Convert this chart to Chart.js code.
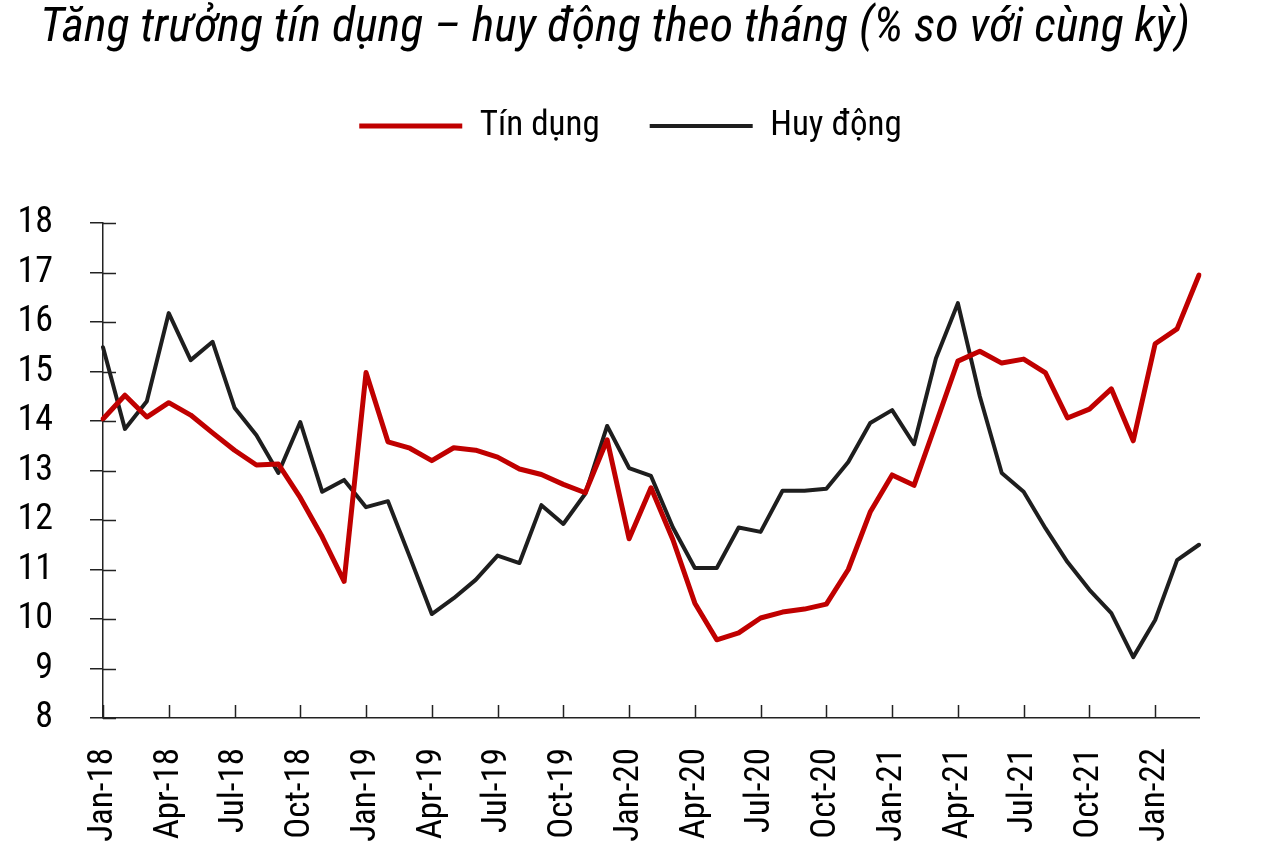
<!DOCTYPE html>
<html>
<head>
<meta charset="utf-8">
<script src="https://cdn.jsdelivr.net/npm/chart.js@4.4.1/dist/chart.umd.min.js"></script>
<style>
  html, body { margin: 0; padding: 0; background: #fff; }
  #wrap { position: relative; width: 1273px; height: 852px; }
  #title {
    position: absolute; left: 40px; top: 1px; margin: 0;
    font-family: "Roboto Condensed", "DejaVu Sans Condensed", sans-serif;
    font-style: italic; font-weight: normal; font-size: 48px; line-height: 48px;
    color: #000; white-space: nowrap;
  }
  canvas { position: absolute; left: 0; top: 0; }
</style>
</head>
<body>
<div id="wrap">
  <canvas id="c" width="1273" height="852"></canvas>
  <h1 id="title">Tăng trưởng tín dụng – huy động theo tháng (% so với cùng kỳ)</h1>
</div>
<script>
const FONT = '"Roboto Condensed", "DejaVu Sans Condensed", sans-serif';

const months = [
  'Jan-18','Feb-18','Mar-18','Apr-18','May-18','Jun-18','Jul-18','Aug-18','Sep-18','Oct-18','Nov-18','Dec-18',
  'Jan-19','Feb-19','Mar-19','Apr-19','May-19','Jun-19','Jul-19','Aug-19','Sep-19','Oct-19','Nov-19','Dec-19',
  'Jan-20','Feb-20','Mar-20','Apr-20','May-20','Jun-20','Jul-20','Aug-20','Sep-20','Oct-20','Nov-20','Dec-20',
  'Jan-21','Feb-21','Mar-21','Apr-21','May-21','Jun-21','Jul-21','Aug-21','Sep-21','Oct-21','Nov-21','Dec-21',
  'Jan-22','Feb-22','Mar-22'
];

const tinDung = [
  14.04, 14.52, 14.08, 14.37, 14.12, 13.76, 13.41, 13.11, 13.13, 12.45, 11.66, 10.76,
  14.98, 13.58, 13.45, 13.20, 13.46, 13.41, 13.27, 13.03, 12.92, 12.72, 12.55, 13.62,
  11.62, 12.65, 11.60, 10.32, 9.58, 9.72, 10.02, 10.14, 10.20, 10.30, 11.00, 12.16,
  12.91, 12.70, 13.95, 15.21, 15.41, 15.17, 15.25, 14.97, 14.06, 14.24, 14.65, 13.60,
  15.56, 15.86, 16.95
];

const huyDong = [
  15.49, 13.84, 14.40, 16.18, 15.23, 15.60, 14.27, 13.71, 12.95, 13.98, 12.57, 12.81,
  12.26, 12.38, 11.25, 10.10, 10.42, 10.79, 11.28, 11.13, 12.30, 11.92, 12.53, 13.90,
  13.05, 12.89, 11.85, 11.03, 11.03, 11.85, 11.76, 12.59, 12.59, 12.63, 13.17, 13.96,
  14.22, 13.53, 15.27, 16.38, 14.50, 12.95, 12.57, 11.83, 11.15, 10.59, 10.12, 9.23,
  9.98, 11.19, 11.50
];

const yTicks = [8, 9, 10, 11, 12, 13, 14, 15, 16, 17, 18];
const labelEvery = 3;

const AXIS = '#222222';

const innerTicks = {
  id: 'innerTicks',
  afterDatasetsDraw(chart) {
    const { ctx } = chart;
    const x = chart.scales.x, y = chart.scales.y;
    ctx.save();
    ctx.strokeStyle = AXIS;
    ctx.lineWidth = 1.5;
    ctx.beginPath();
    yTicks.forEach(v => {
      const py = Math.round(y.getPixelForValue(v)) + 0.5;
      ctx.moveTo(x.left, py);
      ctx.lineTo(x.left + 13, py);
    });
    months.forEach((m, i) => {
      if (i % labelEvery !== 0) return;
      const px = Math.round(x.getPixelForValue(i)) + 0.5;
      ctx.moveTo(px, y.bottom);
      ctx.lineTo(px, y.bottom - 13);
    });
    ctx.stroke();
    ctx.restore();
  }
};

new Chart(document.getElementById('c'), {
  type: 'line',
  data: {
    labels: months,
    datasets: [
      {
        label: 'Tín dụng',
        data: tinDung,
        borderColor: '#C00000',
        backgroundColor: '#C00000',
        borderWidth: 5,
        pointRadius: 0,
        pointStyle: 'line',
        tension: 0,
        borderJoinStyle: 'round',
        borderCapStyle: 'round'
      },
      {
        label: 'Huy động',
        data: huyDong,
        borderColor: '#1E1E1E',
        backgroundColor: '#1E1E1E',
        borderWidth: 4,
        pointRadius: 0,
        pointStyle: 'line',
        tension: 0,
        borderJoinStyle: 'round',
        borderCapStyle: 'round'
      }
    ]
  },
  options: {
    responsive: false,
    animation: false,
    events: [],
    layout: { padding: { top: 58.5, right: 12, bottom: 0, left: 0 } },
    plugins: {
      tooltip: { enabled: false },
      title: { display: false },
      legend: {
        display: true,
        position: 'top',
        weight: 1800,
        labels: {
          usePointStyle: true,
          pointStyle: 'line',
          pointStyleWidth: 103,
          padding: 50,
          color: '#000',
          font: { family: FONT, size: 35 }
        }
      },
      subtitle: {
        display: true,
        text: '',
        weight: 500,
        padding: { top: 68.5, bottom: 0 },
        font: { size: 1, lineHeight: 1 }
      }
    },
    scales: {
      x: {
        type: 'category',
        offset: false,
        grid: { display: true, drawOnChartArea: false, drawTicks: false },
        border: { display: true, color: AXIS, width: 1.5 },
        ticks: {
          autoSkip: false,
          maxRotation: 90,
          minRotation: 90,
          padding: 30,
          color: '#000',
          font: { family: FONT, size: 35 },
          callback: function(v, i) { return i % labelEvery === 0 ? months[i] : null; }
        },
        afterFit(scale) { scale.height = 134; }
      },
      y: {
        min: 8,
        max: 18,
        afterBuildTicks(scale) { scale.ticks = yTicks.map(v => ({ value: v })); },
        grid: { drawOnChartArea: false, drawTicks: true, tickLength: 13, tickColor: AXIS, lineWidth: 1.5 },
        border: { display: true, color: AXIS, width: 1.5 },
        ticks: {
          padding: 37,
          color: '#000',
          font: { family: FONT, size: 36 }
        },
        afterFit(scale) { scale.width = 103; }
      },
      yRightSpace: {
        position: 'right',
        display: true,
        grid: { display: false, drawTicks: false },
        border: { display: false },
        ticks: { display: false },
        afterFit(scale) { scale.width = 62; }
      }
    }
  },
  plugins: [innerTicks]
});
</script>
</body>
</html>
